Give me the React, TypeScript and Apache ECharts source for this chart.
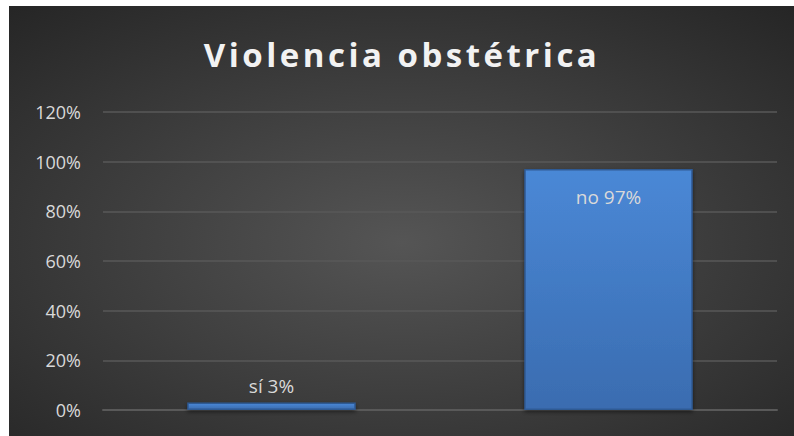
import React, { useEffect, useRef } from "react";
import * as echarts from "echarts";

const titleText = "Violencia obstétrica";
const categories = ["sí", "no"];
const values = [3, 97];
const yTicks = [0, 20, 40, 60, 80, 100, 120];

export default function App() {
  const ref = useRef<HTMLDivElement>(null);
  useEffect(() => {
    if (!ref.current) return;
    const chart = echarts.init(ref.current, undefined, { renderer: "svg" });
    chart.setOption({
      animation: false,
      backgroundColor: {
        type: "radial",
        x: 0.5,
        y: 0.55,
        r: 0.75,
        colorStops: [
          { offset: 0, color: "#555555" },
          { offset: 1, color: "#252525" },
        ],
      },
      graphic: [
        {
          type: "text",
          x: 393,
          y: 48,
          style: {
            text: titleText,
            fill: "#f2f2f2",
            font: "bold 33px 'Open Sans'",
            textAlign: "center",
            textVerticalAlign: "middle",
            shadowColor: "rgba(0,0,0,0.85)",
            shadowBlur: 4,
            shadowOffsetX: 1,
            shadowOffsetY: 2,
          },
        },
      ],
      grid: { left: 94, right: 17, top: 106, bottom: 26 },
      xAxis: {
        type: "category",
        data: categories,
        axisLine: { show: true, lineStyle: { color: "#595959", width: 2 } },
        axisTick: { show: false },
        axisLabel: { show: false },
      },
      yAxis: {
        type: "value",
        min: yTicks[0],
        max: yTicks[yTicks.length - 1],
        interval: 20,
        axisLine: { show: false },
        axisTick: { show: false },
        splitLine: { lineStyle: { color: "#595959", width: 1.5 } },
        axisLabel: {
          formatter: "{value}%",
          color: "#d9d9d9",
          fontSize: 18,
          fontFamily: "Open Sans",
          margin: 22,
        },
      },
      series: [
        {
          type: "bar",
          data: values.map((v, i) => ({
            value: v,
            label:
              i === 0
                ? { position: "top", distance: 7 }
                : { position: "insideTop", distance: 18 },
          })),
          barWidth: "50%",
          itemStyle: {
            color: {
              type: "linear",
              x: 0,
              y: 0,
              x2: 0,
              y2: 1,
              colorStops: [
                { offset: 0, color: "#4a88d6" },
                { offset: 1, color: "#3a6cb0" },
              ],
            },
            borderColor: "#2f5a94",
            borderWidth: 1.5,
            shadowColor: "rgba(0,0,0,0.5)",
            shadowBlur: 4,
            shadowOffsetY: 2,
          },
          label: {
            show: true,
            formatter: (p: any) => `${p.name} ${p.value}%`,
            color: "#d9d9d9",
            fontSize: 19,
            fontFamily: "Open Sans",
          },
        },
      ],
    });
    const applySpacing = () => {
      if (!ref.current) return;
      ref.current.querySelectorAll("text").forEach((t) => {
        if (t.textContent === titleText) {
          (t as SVGTextElement).style.letterSpacing = "3.5px";
        }
      });
    };
    applySpacing();
    chart.on("finished", applySpacing);
    const id = window.setTimeout(applySpacing, 50);
    return () => {
      window.clearTimeout(id);
      chart.dispose();
    };
  }, []);
  return (
    <div
      ref={ref}
      style={{ position: "absolute", left: 9, top: 6, width: 785, height: 430 }}
    />
  );
}
